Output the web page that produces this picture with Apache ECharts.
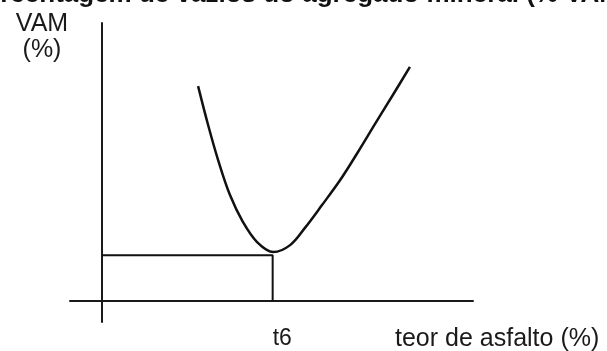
<!DOCTYPE html>
<html>
<head>
<meta charset="utf-8">
<script src="https://cdn.jsdelivr.net/npm/echarts@6/dist/echarts.min.js"></script>
<style>
  html, body { margin: 0; padding: 0; background: #fff; }
  #chart { width: 607px; height: 351px; }
</style>
</head>
<body>
<div id="chart"></div>
<script>
// curve VAM x teor de asfalto (arbitrary units)
const teor = [2.59, 2.86, 3.13, 3.45, 3.80, 4.18, 4.62, 5.07, 5.47, 5.93, 6.42, 6.90, 7.36, 7.84, 8.30];
const vam  = [7.73, 6.33, 5.07, 3.81, 2.84, 2.12, 1.76, 2.01, 2.63, 3.45, 4.35, 5.36, 6.37, 7.41, 8.42];

// reading of the optimum
const tOpt = 4.6;
const vamOpt = 1.65;
const tLabel = "t6";

// axis extents
const xRange = [-0.8625, 10];
const yRange = [-0.755, 10];

const txt = "#1a1a1a";
const font = "Liberation Sans, Arial, sans-serif";

const myChart = echarts.init(document.getElementById("chart"), null, { renderer: "canvas" });

const option = {
    backgroundColor: "#fff",
    animation: false,
    grid: {
        left: 70,
        top: 23,
        width: 403,
        height: 299,
        outerBoundsMode: "none"
    },
    xAxis: {
        type: "value",
        min: xRange[0],
        max: xRange[1],
        axisLine: { show: true, onZero: true, lineStyle: { color: txt, width: 2 } },
        axisTick: { show: false },
        splitLine: { show: false },
        axisLabel: {
            show: true,
            customValues: [tOpt],
            formatter: () => tLabel,
            align: "left",
            margin: 5,
            color: txt,
            fontSize: 23,
            fontFamily: font
        }
    },
    yAxis: {
        type: "value",
        min: yRange[0],
        max: yRange[1],
        axisLine: { show: true, onZero: true, lineStyle: { color: txt, width: 2 } },
        axisTick: { show: false },
        splitLine: { show: false },
        axisLabel: { show: false }
    },
    series: [
        {
            name: "VAM",
            type: "line",
            smooth: 0.35,
            symbol: "none",
            lineStyle: { color: "#111", width: 2.5 },
            data: teor.map((t, i) => [t, vam[i]])
        },
        {
            name: "leitura",
            type: "line",
            symbol: "none",
            lineStyle: { color: "#111", width: 2 },
            data: [[0, vamOpt], [tOpt, vamOpt], [tOpt, 0]]
        }
    ],
    graphic: [
        {
            type: "text", x: -33, y: 7.5,
            style: { text: "Porcentagem de vazios do agregado mineral (% VAM)", fill: "#111",
                     font: "bold 26px " + font, align: "left", verticalAlign: "bottom" }
        },
        {
            type: "text", x: 42, y: 12,
            style: { text: "VAM", fill: txt, font: "25px " + font, align: "center", verticalAlign: "top" }
        },
        {
            type: "text", x: 42, y: 38,
            style: { text: "(%)", fill: txt, font: "25px " + font, align: "center", verticalAlign: "top" }
        },
        {
            type: "text", x: 395, y: 327,
            style: { text: "teor de asfalto (%)", fill: txt, font: "25px " + font, align: "left", verticalAlign: "top" }
        }
    ]
};

myChart.setOption(option);
</script>
</body>
</html>
